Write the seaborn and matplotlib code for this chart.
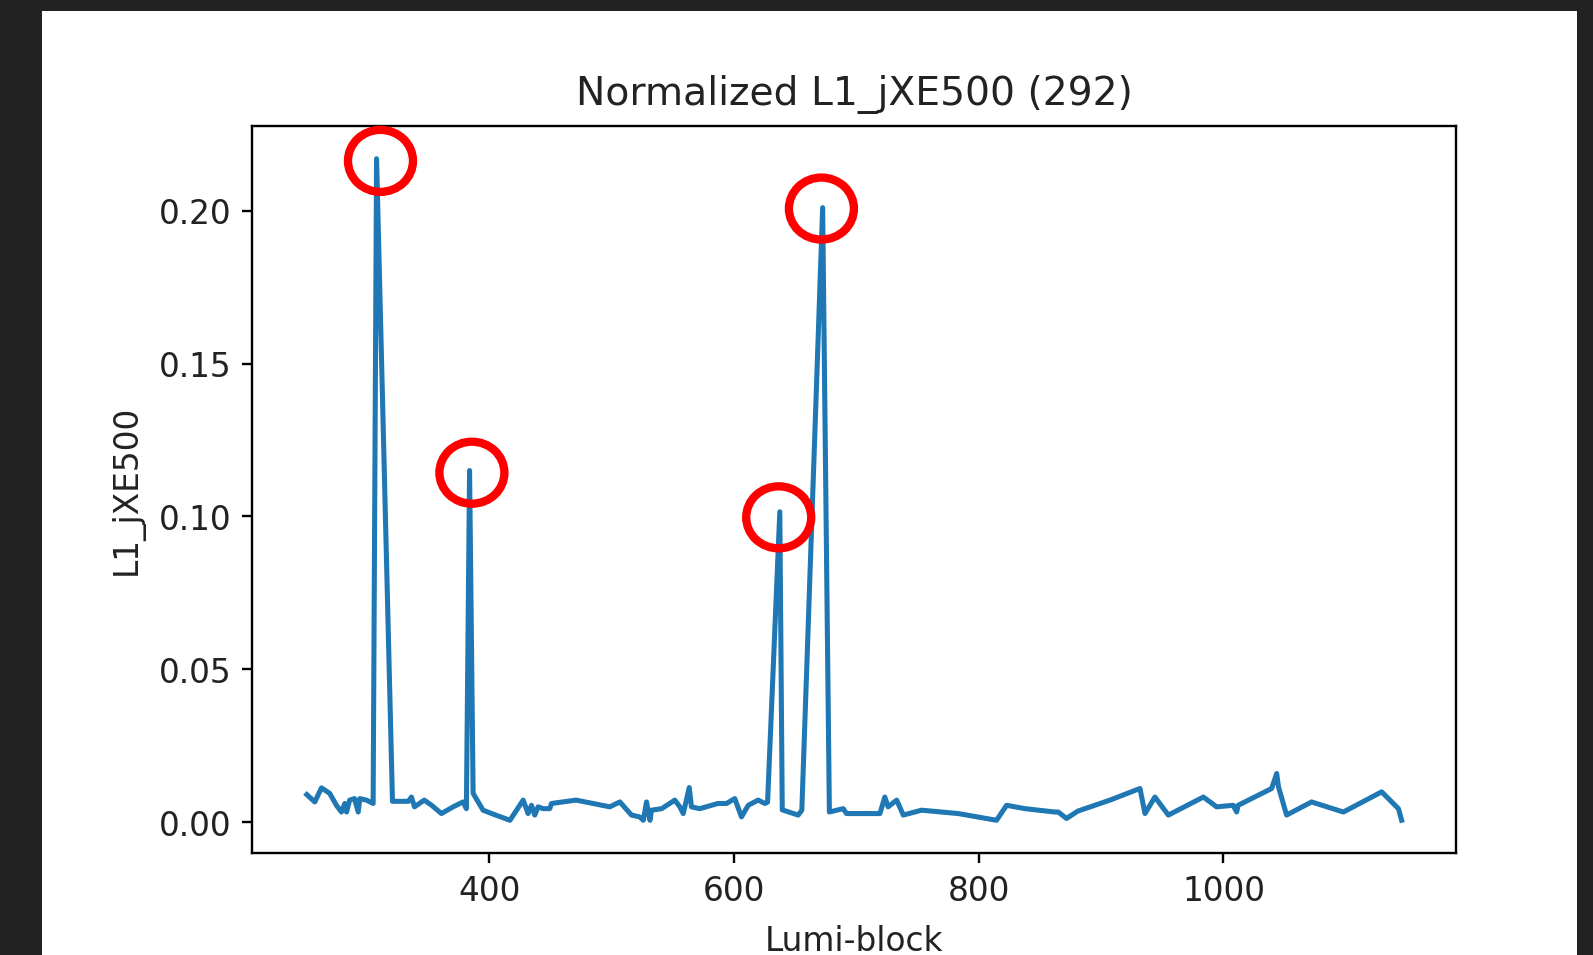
import matplotlib
matplotlib.use("Agg")
import matplotlib.pyplot as plt
from matplotlib.patches import Ellipse, Rectangle
import seaborn as sns
import pandas as pd

lumi_block = [251, 257.5, 263, 269.7, 275.2, 279.3, 282, 283.5, 286, 290, 293, 294.3,
              299.7, 305.2, 308, 321, 334, 336.5, 339, 347, 353, 361, 370.6, 378.7,
              381.4, 384, 386.9, 395, 404, 417, 427.8, 431.8, 434.6, 437.3, 440, 444,
              449.5, 451, 471, 498.6, 506.8, 516.3, 523, 526, 528.6, 531.4, 532.6, 541,
              551.7, 555.8, 558.6, 563.5, 565.3, 572, 581.7, 587, 594, 600.7, 606.2,
              611.7, 619.8, 625.3, 627.5, 637.5, 639.5, 652.5, 655.5, 672.5, 678,
              689.3, 692, 719.3, 723.3, 726, 733, 738.4, 753.3, 783.3, 814.6, 822.8,
              837.8, 862.3, 865, 871.8, 881, 907.3, 931.8, 935.9, 944, 955, 983.6,
              994.4, 1008, 1010.8, 1012, 1039.4, 1043.5, 1045, 1051.6, 1072, 1098,
              1129.3, 1143, 1145.6]
rate = [0.0090, 0.0066, 0.0112, 0.0094, 0.0055, 0.0033, 0.0061, 0.0033, 0.0072, 0.0077,
        0.0033, 0.0077, 0.0072, 0.0061, 0.2170, 0.0068, 0.0068, 0.0082, 0.0050, 0.0072,
        0.0055, 0.0028, 0.0050, 0.0066, 0.0044, 0.1150, 0.0094, 0.0039, 0.0025, 0.0006,
        0.0072, 0.0028, 0.0055, 0.0023, 0.0050, 0.0044, 0.0044, 0.0061, 0.0072, 0.0050,
        0.0066, 0.0023, 0.0017, 0.0006, 0.0066, 0.0006, 0.0039, 0.0044, 0.0072, 0.0050,
        0.0028, 0.0113, 0.0050, 0.0044, 0.0055, 0.0061, 0.0061, 0.0077, 0.0017, 0.0055,
        0.0072, 0.0061, 0.0065, 0.1015, 0.0040, 0.0023, 0.0039, 0.2010, 0.0033, 0.0044,
        0.0028, 0.0028, 0.0082, 0.0050, 0.0072, 0.0023, 0.0039, 0.0028, 0.0006, 0.0055,
        0.0044, 0.0033, 0.0033, 0.0012, 0.0036, 0.0072, 0.0110, 0.0028, 0.0082, 0.0023,
        0.0082, 0.0050, 0.0055, 0.0033, 0.0055, 0.0110, 0.0159, 0.0115, 0.0023, 0.0066,
        0.0033, 0.0099, 0.0044, 0.0006]

title = "Normalized L1_jXE500 (292)"
x_label = "Lumi-block"
y_label = "L1_jXE500"

# hand-drawn red circle annotations (data coords of centres)
circle_x = [311.2, 385.9, 636.6, 671.5]
circle_y = [0.2163, 0.1143, 0.0997, 0.2007]

DPI = 214
plt.rcParams.update({
    "xtick.labelsize": 11,
    "ytick.labelsize": 11,
    "axes.labelsize": 11,
    "axes.titlesize": 13.2,
    "text.color": "#222222",
    "axes.labelcolor": "#222222",
    "xtick.labelcolor": "#222222",
    "ytick.labelcolor": "#222222",
})

fig = plt.figure(figsize=(1593.4 / DPI, 955.4 / DPI), dpi=DPI, facecolor="#222222")
fig.patches.append(Rectangle((42 / 1593, 0), (1577 - 42) / 1593, (955 - 11) / 955,
                             transform=fig.transFigure, facecolor="white",
                             edgecolor="none", zorder=-10))
ax = fig.add_axes([252 / 1593, (955 - 853.4) / 955, 1204 / 1593, (853.4 - 126) / 955])

df = pd.DataFrame({"lumi": lumi_block, "rate": rate})
sns.lineplot(data=df, x="lumi", y="rate", ax=ax, color="#1f77b4", linewidth=1.7)

ax.set_title(title, pad=7)
ax.set_xlabel(x_label, labelpad=6)
ax.set_ylabel(y_label, labelpad=5)

# ellipse size in pixels -> data units
bbox = ax.get_window_extent()
x0, x1 = ax.get_xlim()
y0, y1 = ax.get_ylim()
w_px, h_px = 65, 62
w = w_px * (x1 - x0) / bbox.width
h = h_px * (y1 - y0) / bbox.height
for cx, cy in zip(circle_x, circle_y):
    e = Ellipse((cx, cy), w, h, fill=False, edgecolor="#ff0000", linewidth=2.8,
                clip_on=False, zorder=5)
    ax.add_patch(e)

fig.savefig("out.png", dpi=DPI, facecolor=fig.get_facecolor())
